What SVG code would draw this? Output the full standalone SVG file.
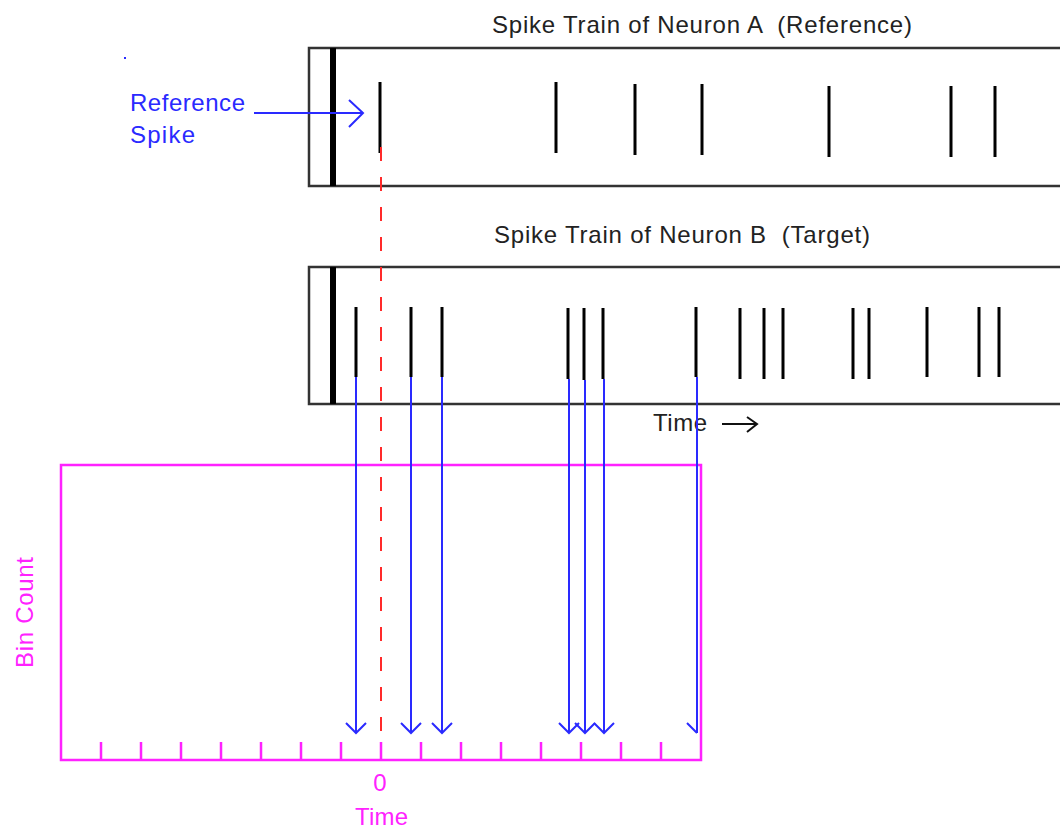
<svg xmlns="http://www.w3.org/2000/svg" width="1060" height="829" viewBox="0 0 1060 829">
<style>
text{font-family:"Liberation Sans",Arial,sans-serif;font-size:24px}
.t{fill:#222}
.b{fill:#2a2aff}
.m{fill:#ff22ff}
.box{fill:#fff;stroke:#333;stroke-width:2.5}
.bar{fill:#000}
.sp{stroke:#000;stroke-width:3}
.bl{stroke:#2a2aff;stroke-width:2;fill:none}
.mg{stroke:#ff22ff;stroke-width:2.5;fill:none}
.rd{stroke:#ff2a2a;stroke-width:2;stroke-dasharray:14 16;fill:none}
.ar{stroke:#111;stroke-width:2;fill:none}
</style>
<rect width="1060" height="829" fill="#fff"/>

<g id="trainA">
<rect class="box" x="309" y="48" width="770" height="138"/>
<rect class="bar" x="330" y="48" width="6" height="138"/>
<text class="t" x="492" y="33" textLength="420" xml:space="preserve">Spike Train of Neuron A  (Reference)</text>
<path class="sp" d="M380 82V153M556 82V153M635 84V155M702 84V155M829 86V157M951 86V157M995 86V157"/>
</g>

<g id="trainB">
<rect class="box" x="309" y="267" width="770" height="137"/>
<rect class="bar" x="330" y="267" width="6" height="137"/>
<text class="t" x="494" y="243" textLength="376" xml:space="preserve">Spike Train of Neuron B  (Target)</text>
<path class="sp" d="M356 307V377M411 307V377M442 307V377M568 308V379M584 308V380M603 308V379M696 307V377M740 308V379M764 308V379M783 308V379M853 308V379M869 308V379M927 307V377M979 307V377M999 307V377"/>
</g>

<g id="timeAxis">
<text class="t" x="653" y="431" textLength="54">Time</text>
<path class="ar" d="M722 424H757M747 417L757 424L747 432"/>
</g>

<g id="refLabel">
<text class="b" x="130" y="111" textLength="115">Reference</text>
<text class="b" x="130" y="143" textLength="65">Spike</text>
<rect x="124" y="57" width="2" height="2" fill="#2a2aff"/>
</g>

<g id="histogram">
<rect class="mg" x="61" y="465" width="640" height="295"/>
<path class="mg" d="M101 742V760M141 742V760M181 742V760M221 742V760M261 742V760M301 742V760M341 742V760M381 742V760M421 742V760M461 742V760M501 742V760M541 742V760M581 742V760M621 742V760M661 742V760"/>
<text class="m" transform="translate(33,668) rotate(-90)" textLength="111">Bin Count</text>
<text class="m" x="380" y="791" text-anchor="middle">0</text>
<text class="m" x="355" y="825" textLength="53">Time</text>
</g>

<g id="connectors">
<path class="rd" d="M381 147V742"/>
<path class="bl" d="M254 113H363M349 100L363 113L349 127"/>
<path class="bl" d="M356 377V733M346 723L356 733L366 723"/>
<path class="bl" d="M411 377V733M401 723L411 733L421 723"/>
<path class="bl" d="M442 377V733M432 723L442 733L452 723"/>
<path class="bl" d="M569 379V733M559 723L569 733L579 723"/>
<path class="bl" d="M585 380V733M575 723L585 733L595 723"/>
<path class="bl" d="M604 379V733M594 723L604 733L614 723"/>
<path class="bl" d="M697 377V733M687 723L697 733"/>
</g>
</svg>
